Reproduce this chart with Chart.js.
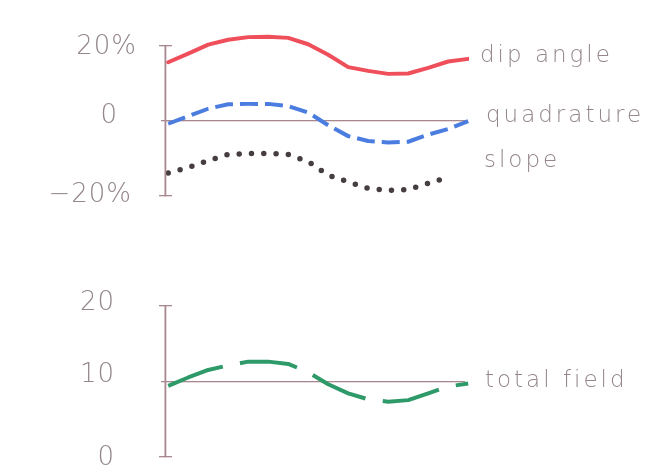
<!DOCTYPE html>
<html>
<head>
<meta charset="utf-8">
<script src="https://cdn.jsdelivr.net/npm/chart.js@4/dist/chart.umd.min.js"></script>
<style>
  html, body { margin: 0; padding: 0; background: #ffffff; }
  #wrap { position: relative; width: 672px; height: 476px; }
</style>
</head>
<body>
<div id="wrap"><canvas id="profile" width="672" height="476"></canvas></div>
<script>
// Survey stations along the profile (m)
const stations = [0, 25, 50, 75, 100, 125, 150, 175, 200, 225, 250, 275, 300, 325, 350, 375];

// VLF-EM responses, percent
const dipAngle   = [15.4, 17.7, 20.1, 21.4, 22.1, 22.2, 21.9, 20.2, 17.4, 14.1, 13.1, 12.3, 12.4, 13.9, 15.6, 16.3];
const quadrature = [-1.0, 1.0, 3.0, 4.2, 4.3, 4.3, 3.7, 2.0, -1.4, -4.3, -5.6, -6.0, -5.8, -3.9, -2.4, -0.3];
const slope      = [-14.1, -12.7, -10.8, -9.2, -8.9, -8.9, -9.2, -11.1, -14.7, -16.5, -18.2, -18.8, -18.5, -16.9, -15.3, null];

// Total field strength
const totalField = [9.3, 10.4, 11.4, 12.0, 12.5, 12.5, 12.2, 11.1, 9.5, 8.3, 7.5, 7.2, 7.4, 8.3, 9.2, 9.6];

// Axis ticks and their labels
const percentTicks = [20, 0, -20];
const percentTickLabels = ['20%', '0', '\u221220%'];
const fieldTicks = [20, 10, 0];
const fieldTickLabels = ['20', '10', '0'];

// Series names written beside the curves
const seriesNames = ['dip angle', 'quadrature', 'slope', 'total field'];

// ---- styling / layout ----
const AXIS_COLOR = '#a9878f';
const TEXT_COLOR = '#948689';
const TICK_FONT = '200 26px "DejaVu Sans", "Liberation Sans", sans-serif';
const NAME_FONT = '200 23px "DejaVu Sans", "Liberation Sans", sans-serif';

const AREA = { left: 165, right: 469, top: 20, bottom: 470 };
// pixel rows where the two panels place their end ticks
const PANEL_PCT = { hiVal: 20, hiPx: 45, loVal: -20, loPx: 195 };
const PANEL_FLD = { hiVal: 20, hiPx: 305, loVal: 0, loPx: 456 };

function rangeFor(p) {
  const perPx = (p.hiVal - p.loVal) / (p.loPx - p.hiPx);
  return {
    max: p.hiVal + (p.hiPx - AREA.top) * perPx,
    min: p.loVal - (AREA.bottom - p.loPx) * perPx
  };
}
const pctRange = rangeFor(PANEL_PCT);
const fldRange = rangeFor(PANEL_FLD);

// tick label placement: right edge x and baseline offset from the tick row
const pctTickPlace = [{ right: 137, base: 9 }, { right: 118, base: 3 }, { right: 132, base: 7 }];
const fldTickPlace = [{ right: 115, base: 5 }, { right: 115, base: 1 }, { right: 115, base: 9 }];
// series name placement (left x, baseline y)
const namePlace = [{ x: 480, y: 62 }, { x: 486, y: 122 }, { x: 484, y: 167 }, { x: 485, y: 387 }];

function pts(values) {
  return stations.map((s, i) => ({ x: s, y: values[i] }));
}

function panels(scales) {
  return [
    { s: scales.yPct, hi: percentTicks[0], lo: percentTicks[percentTicks.length - 1], ref: 0 },
    { s: scales.yFld, hi: fieldTicks[0], lo: fieldTicks[fieldTicks.length - 1], ref: 10 }
  ];
}

// reference lines sit under the curves
const refLines = {
  id: 'refLines',
  beforeDraw(chart) {
    const { ctx, scales } = chart;
    const ax = Math.round(scales.x.getPixelForValue(scales.x.min));
    const refEnd = Math.round(scales.x.getPixelForValue(371));
    ctx.save();
    ctx.fillStyle = AXIS_COLOR;
    panels(scales).forEach(p => {
      const yRef = Math.round(p.s.getPixelForValue(p.ref));
      ctx.fillRect(ax - 4, yRef, refEnd - ax + 4, 1.3);
    });
    ctx.restore();
  }
};

// vertical spines with end caps, tick labels and series names
const frame = {
  id: 'frame',
  afterDraw(chart) {
    const { ctx, scales } = chart;
    const ax = Math.round(scales.x.getPixelForValue(scales.x.min));
    ctx.save();
    ctx.fillStyle = AXIS_COLOR;
    panels(scales).forEach(p => {
      const yHi = Math.round(p.s.getPixelForValue(p.hi));
      const yLo = Math.round(p.s.getPixelForValue(p.lo));
      ctx.fillRect(ax - 0.5, yHi, 1.8, yLo - yHi + 1.3);
      ctx.fillRect(ax - 6, yHi, 13, 1.3);
      ctx.fillRect(ax - 6, yLo, 13, 1.3);
    });

    ctx.fillStyle = TEXT_COLOR;
    ctx.textBaseline = 'alphabetic';
    ctx.font = TICK_FONT;
    ctx.textAlign = 'right';
    try { ctx.letterSpacing = '1px'; } catch (e) {}
    percentTicks.forEach((v, i) => {
      const y = scales.yPct.getPixelForValue(v);
      ctx.fillText(percentTickLabels[i], pctTickPlace[i].right, y + pctTickPlace[i].base);
    });
    fieldTicks.forEach((v, i) => {
      const y = scales.yFld.getPixelForValue(v);
      ctx.fillText(fieldTickLabels[i], fldTickPlace[i].right, y + fldTickPlace[i].base);
    });
    ctx.font = NAME_FONT;
    ctx.textAlign = 'left';
    try { ctx.letterSpacing = '3px'; } catch (e) {}
    seriesNames.forEach((name, i) => {
      ctx.fillText(name, namePlace[i].x, namePlace[i].y);
    });
    ctx.restore();
  }
};

new Chart(document.getElementById('profile'), {
  type: 'line',
  data: {
    datasets: [
      {
        label: seriesNames[0], data: pts(dipAngle), yAxisID: 'yPct',
        borderColor: '#ef4f5b', borderWidth: 4, pointRadius: 0,
        borderJoinStyle: 'round', borderCapStyle: 'round', tension: 0
      },
      {
        label: seriesNames[1], data: pts(quadrature), yAxisID: 'yPct',
        borderColor: '#4a7ddf', borderWidth: 4, pointRadius: 0,
        borderDash: [18, 7], borderJoinStyle: 'round', tension: 0
      },
      {
        label: seriesNames[2], data: pts(slope), yAxisID: 'yPct',
        borderColor: '#463d3e', borderWidth: 5.5, pointRadius: 0,
        borderDash: [0, 12.3], borderCapStyle: 'round', borderJoinStyle: 'round', tension: 0
      },
      {
        label: seriesNames[3], data: pts(totalField), yAxisID: 'yFld',
        borderColor: '#2f9a69', borderWidth: 4, pointRadius: 0,
        borderDash: [58, 17.5], borderJoinStyle: 'round', tension: 0
      }
    ]
  },
  options: {
    responsive: false,
    animation: false,
    devicePixelRatio: 1,
    layout: { padding: { left: AREA.left, right: 672 - AREA.right, top: AREA.top, bottom: 476 - AREA.bottom } },
    plugins: { legend: { display: false }, tooltip: { enabled: false } },
    scales: {
      x: { type: 'linear', min: -4, max: 376, display: false },
      yPct: { type: 'linear', min: pctRange.min, max: pctRange.max, display: false },
      yFld: { type: 'linear', min: fldRange.min, max: fldRange.max, display: false }
    }
  },
  plugins: [refLines, frame]
});
</script>
</body>
</html>
